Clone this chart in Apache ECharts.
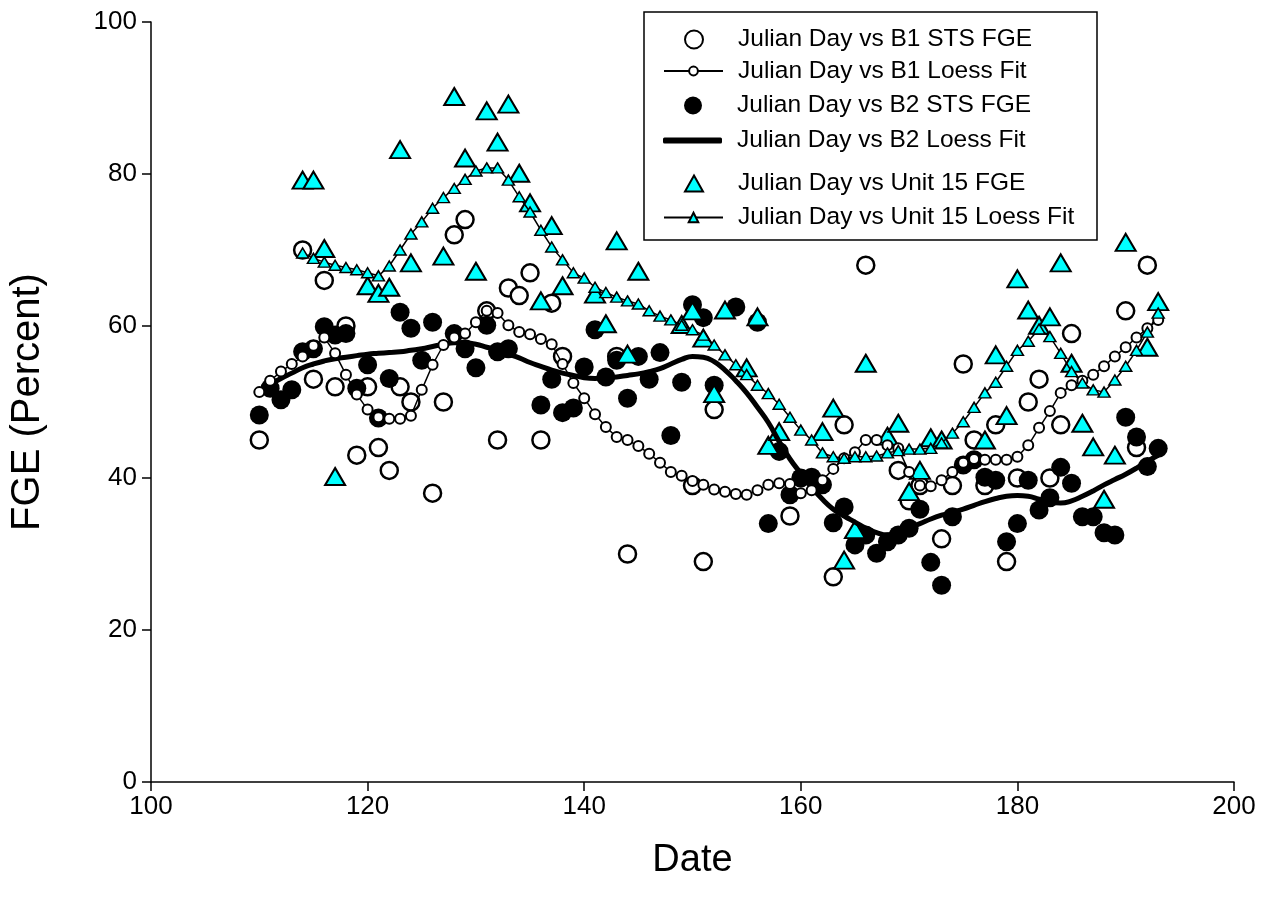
<!DOCTYPE html>
<html>
<head>
<meta charset="utf-8">
<script src="https://cdn.jsdelivr.net/npm/echarts@6/dist/echarts.min.js"></script>
<style>
  html, body { margin: 0; padding: 0; background: #fff; }
  #chart { width: 1268px; height: 905px; }
</style>
</head>
<body>
<div id="chart"></div>
<script>
// Julian day vs FGE (percent), three units with loess fits

const xTicks = [100, 120, 140, 160, 180, 200];
const yTicks = [0, 20, 40, 60, 80, 100];

// B1 STS FGE observations [day, percent]
const b1Fge = [
  [110,45],[114,70],[115,53],[116,66],[117,52],[118,60],[119,43],[120,52],[121,44],[122,41],
  [123,52],[124,50],[126,38],[127,50],[128,72],[129,74],[131,62],[132,45],[133,65],[134,64],
  [135,67],[136,45],[137,63],[138,56],[143,56],[144,30],[150,39],[151,29],[152,49],[159,35],
  [163,27],[164,47],[166,68],[169,41],[170,37],[171,39],[173,32],[174,39],[175,55],[176,45],
  [177,39],[178,47],[179,29],[180,40],[181,50],[182,53],[183,40],[184,47],[185,59],[190,62],
  [191,44],[192,68]
];

// B1 loess fit
const b1Fit = [
  [110,51.3],[111,52.8],[112,54],[113,55],[114,56],[115,57.4],[116,58.5],[117,56.4],[118,53.6],[119,51],
  [120,49],[121,48],[122,47.8],[123,47.8],[124,48.2],[125,51.6],[126,54.9],[127,57.5],[128,58.5],[129,59],
  [130,60.5],[131,62],[132,61.7],[133,60.1],[134,59.2],[135,58.9],[136,58.3],[137,57.6],[138,55],[139,52.5],
  [140,50.5],[141,48.4],[142,46.7],[143,45.4],[144,45],[145,44.2],[146,43.2],[147,42],[148,40.8],[149,40.3],
  [150,39.6],[151,39.1],[152,38.5],[153,38.2],[154,37.9],[155,37.8],[156,38.4],[157,39.1],[158,39.3],[159,39.2],
  [160,38],[161,38.4],[162,39.7],[163,41.2],[164,42.6],[165,43.4],[166,45],[167,45],[168,44.3],[169,43.9],
  [170,40.8],[171,39],[172,38.9],[173,39.7],[174,40.8],[175,42],[176,42.5],[177,42.4],[178,42.4],[179,42.4],
  [180,42.8],[181,44.3],[182,46.6],[183,48.8],[184,51.2],[185,52.2],[186,52.8],[187,53.6],[188,54.7],[189,56],
  [190,57.2],[191,58.5],[192,59.7],[193,60.8]
];

// B2 STS FGE observations
const b2Fge = [
  [110,48.3],[111,51.8],[112,50.3],[113,51.6],[114,56.6],[115,57],[116,59.9],[117,58.8],[118,59],[119,51.8],
  [120,54.9],[121,47.9],[122,53.1],[123,61.8],[124,59.7],[125,55.5],[126,60.5],[128,59],[129,57],[130,54.5],
  [131,60.1],[132,56.6],[133,57],[136,49.6],[137,53],[138,48.6],[139,49.2],[140,54.6],[141,59.5],[142,53.3],
  [143,55.5],[144,50.5],[145,56],[146,53],[147,56.5],[148,45.6],[149,52.6],[150,62.8],[151,61.1],[152,52.2],
  [154,62.5],[156,60.5],[157,34],[158,43.5],[159,37.8],[160,40],[161,40.1],[162,39.1],[163,34.1],[164,36.2],
  [165,31.2],[166,32.5],[167,30.1],[168,31.6],[169,32.5],[170,33.4],[171,35.9],[172,28.9],[173,25.9],[174,34.9],
  [175,41.7],[176,42.4],[177,40.1],[178,39.7],[179,31.6],[180,34],[181,39.7],[182,35.8],[183,37.4],[184,41.4],
  [185,39.3],[186,34.9],[187,34.9],[188,32.8],[189,32.5],[190,48],[191,45.4],[192,41.5],[193,43.9]
];

// B2 loess fit
const b2Fit = [
  [110,51.5],[111,52.3],[112,53.1],[113,53.8],[114,54.5],[115,55],[116,55.4],[117,55.7],[118,55.9],[119,56.1],
  [120,56.3],[121,56.4],[122,56.5],[123,56.6],[124,56.8],[125,57],[126,57.3],[127,57.6],[128,57.8],[129,57.8],
  [130,57.6],[131,57.2],[132,56.8],[133,56.3],[134,55.8],[135,55.2],[136,54.7],[137,54.2],[138,53.8],[139,53.5],
  [140,53.2],[141,53.1],[142,53.2],[143,53.3],[144,53.5],[145,53.7],[146,54],[147,54.4],[148,55],[149,55.6],
  [150,56],[151,55.9],[152,55.3],[153,54.2],[154,52.8],[155,51.2],[156,49.3],[157,47.3],[158,44.8],[159,42.5],
  [160,40.6],[161,38.8],[162,37.2],[163,35.9],[164,35],[165,34.2],[166,33.4],[167,32.8],[168,32.5],[169,33],
  [170,33.5],[171,34],[172,34.6],[173,35.1],[174,35.5],[175,35.9],[176,36.4],[177,36.9],[178,37.3],[179,37.6],
  [180,37.7],[181,37.6],[182,37.2],[183,36.8],[184,36.7],[185,37],[186,37.6],[187,38.3],[188,39.1],[189,39.8],
  [190,40.5],[191,41.3],[192,42.2],[193,43]
];

// Unit 15 FGE observations
const u15Fge = [
  [114,79.2],[115,79.2],[116,70.2],[117,40.2],[120,65.3],[121,64.3],[122,65.1],[123,83.2],[124,68.3],[127,69.2],
  [128,90.2],[129,82.1],[130,67.2],[131,88.3],[132,84.2],[133,89.2],[134,80.1],[135,76.2],[136,63.3],[137,73.2],
  [138,65.3],[141,64.2],[142,60.3],[143,71.2],[144,56.3],[145,67.2],[149,60.2],[150,62],[151,58.4],[152,51.1],
  [153,62.1],[155,54.5],[156,61.2],[157,44.3],[158,46.1],[162,46.1],[163,49.2],[164,29.2],[165,33.2],[166,55.1],
  [168,45.5],[169,47.2],[170,38.2],[171,41],[172,45.3],[173,45],[177,45],[178,56.2],[179,48.2],[180,66.2],
  [181,62.1],[182,60.1],[183,61.2],[184,68.3],[185,55.1],[186,47.2],[187,44.1],[188,37.2],[189,43],[190,71],
  [192,57.2],[193,63.2]
];

// Unit 15 loess fit
const u15Fit = [
  [114,69.6],[115,68.9],[116,68.4],[117,68],[118,67.7],[119,67.4],[120,67],[121,66.6],[122,67.9],[123,70],
  [124,72.1],[125,73.7],[126,75.5],[127,76.9],[128,78.1],[129,79.3],[130,80.4],[131,80.8],[132,80.8],[133,79.2],
  [134,77],[135,75],[136,72.6],[137,70.4],[138,68.7],[139,67],[140,66.3],[141,65.1],[142,64.4],[143,63.8],
  [144,63.3],[145,62.9],[146,62],[147,61.3],[148,60.8],[149,60.1],[150,59.5],[151,58.8],[152,57.5],[153,56.2],
  [154,54.9],[155,53.6],[156,52.2],[157,51.1],[158,49.7],[159,48],[160,46.3],[161,45],[162,43.3],[163,42.8],
  [164,42.6],[165,42.8],[166,42.8],[167,42.9],[168,43.3],[169,43.6],[170,43.8],[171,43.8],[172,43.9],[173,44.6],
  [174,45.9],[175,47.4],[176,49.3],[177,51.2],[178,52.6],[179,54.7],[180,56.8],[181,58],[182,59.6],[183,58.6],
  [184,56.4],[185,54],[186,52.5],[187,51.6],[188,51.3],[189,52.9],[190,54.7],[191,56.8],[192,59.2],[193,61.7]
];

const seriesNames = [
  'Julian Day vs B1 STS FGE',
  'Julian Day vs B1 Loess Fit',
  'Julian Day vs B2 STS FGE',
  'Julian Day vs B2 Loess Fit',
  'Julian Day vs Unit 15 FGE',
  'Julian Day vs Unit 15 Loess Fit'
];

const FONT = 'Liberation Sans, Arial, sans-serif';
const CYAN = '#00ffff';
const LEGEND_TEXT_X = 737;

// one legend block per row so the rows can sit at their own heights;
// marker rows centre a single symbol, line rows draw a short line segment
const legendRows = [
  { y: 36,  x: 684, w: 18, h: 18 },
  { y: 64,  x: 663, w: 59, h: 11 },
  { y: 102, x: 684, w: 18, h: 18 },
  { y: 131, x: 663, w: 59, h: 6, icon: 'roundRect' },
  { y: 179, x: 684, w: 18, h: 16 },
  { y: 211, x: 663, w: 59, h: 12 }
];
const legends = seriesNames.map((name, i) => {
  const r = legendRows[i];
  return {
    data: [r.icon ? { name: name, icon: r.icon } : name],
    left: r.x,
    top: r.y - r.h / 2,
    itemWidth: r.w,
    itemHeight: r.h,
    itemGap: 0,
    padding: 0,
    selectedMode: false,
    textStyle: {
      fontFamily: FONT, fontSize: 24.5, color: '#000',
      padding: [0, 0, 0, LEGEND_TEXT_X - (r.x + r.w + 5)]
    }
  };
});

const chart = echarts.init(document.getElementById('chart'), null, { renderer: 'canvas' });

chart.setOption({
  backgroundColor: '#fff',
  animation: false,
  legend: legends,
  graphic: [{
    type: 'rect',
    shape: { x: 644, y: 12, width: 453, height: 228 },
    style: { fill: 'none', stroke: '#000', lineWidth: 1.5 },
    z: 0
  }],
  grid: { left: 150, top: 22, right: 34, bottom: 123 },
  xAxis: {
    type: 'value',
    min: xTicks[0],
    max: xTicks[xTicks.length - 1],
    interval: 20,
    name: 'Date',
    nameLocation: 'middle',
    nameGap: 60,
    nameTextStyle: { fontFamily: FONT, fontSize: 38, color: '#000' },
    axisLine: { lineStyle: { color: '#000', width: 1.5 } },
    axisTick: { inside: false, length: 9, lineStyle: { color: '#000', width: 1.5 } },
    axisLabel: { fontFamily: FONT, fontSize: 26, color: '#000', margin: 12 },
    splitLine: { show: false }
  },
  yAxis: {
    type: 'value',
    min: yTicks[0],
    max: yTicks[yTicks.length - 1],
    interval: 20,
    name: 'FGE (Percent)',
    nameLocation: 'middle',
    nameGap: 103,
    nameTextStyle: { fontFamily: FONT, fontSize: 40, color: '#000' },
    axisLine: { lineStyle: { color: '#000', width: 1.5 } },
    axisTick: { inside: false, length: 9, lineStyle: { color: '#000', width: 1.5 } },
    axisLabel: { fontFamily: FONT, fontSize: 26, color: '#000', margin: 14 },
    splitLine: { show: false }
  },
  series: [
    {
      name: seriesNames[0], type: 'scatter', data: b1Fge,
      symbol: 'circle', symbolSize: 17,
      itemStyle: { color: '#fff', borderColor: '#000', borderWidth: 2.5, opacity: 1 }
    },
    {
      name: seriesNames[1], type: 'line', data: b1Fit,
      symbol: 'circle', symbolSize: 10, showAllSymbol: true,
      lineStyle: { color: '#000', width: 1.5 },
      itemStyle: { color: '#fff', borderColor: '#000', borderWidth: 2, opacity: 1 }
    },
    {
      name: seriesNames[2], type: 'scatter', data: b2Fge,
      symbol: 'circle', symbolSize: 19,
      itemStyle: { color: '#000', opacity: 1 }
    },
    {
      name: seriesNames[3], type: 'line', data: b2Fit,
      symbol: 'none', smooth: true,
      lineStyle: { color: '#000', width: 5 },
      itemStyle: { color: '#000' }
    },
    {
      name: seriesNames[4], type: 'scatter', data: u15Fge,
      symbol: 'triangle', symbolSize: [20, 17],
      itemStyle: { color: CYAN, borderColor: '#000', borderWidth: 2, opacity: 1 }
    },
    {
      name: seriesNames[5], type: 'line', data: u15Fit,
      symbol: 'triangle', symbolSize: [12, 10], showAllSymbol: true,
      lineStyle: { color: '#000', width: 1.5 },
      itemStyle: { color: CYAN, borderColor: '#000', borderWidth: 1.5, opacity: 1 }
    }
  ]
});
</script>
</body>
</html>
